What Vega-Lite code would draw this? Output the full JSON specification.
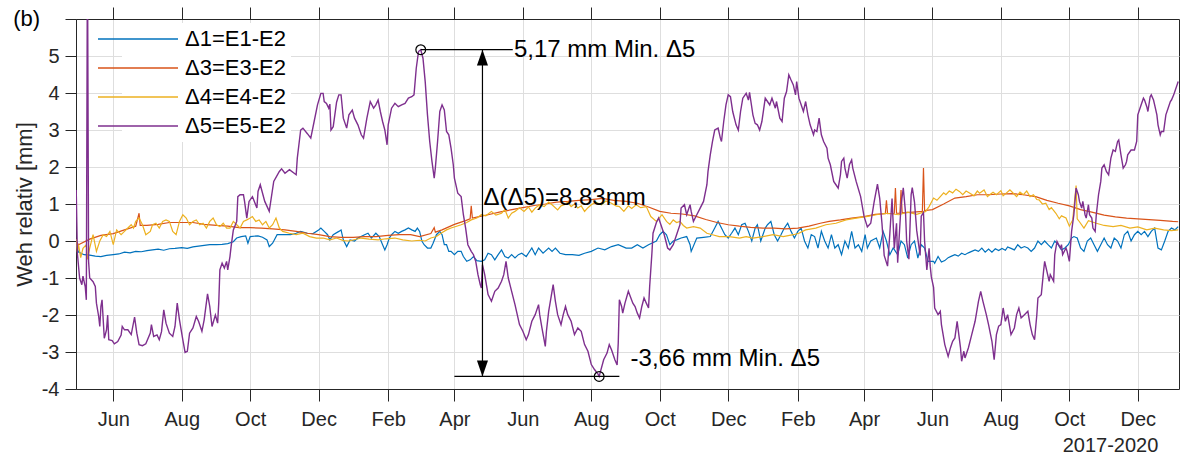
{
  "$schema": "https://vega.github.io/schema/vega-lite/v6.json",
  "autosize": "none",
  "width": 1103,
  "height": 370,
  "padding": {"left": 76, "top": 19, "right": 8, "bottom": 71},
  "background": "white",
  "title": {"text": "(b)", "anchor": "start", "frame": "bounds", "fontSize": 22, "fontWeight": "normal", "color": "black", "baseline": "alphabetic", "offset": -41, "dx": 0},
  "config": {
    "font": "Liberation Sans",
    "view": {"stroke": "#262626", "strokeWidth": 1},
    "axis": {"domainColor": "#262626", "tickColor": "#262626", "labelColor": "#262626", "titleColor": "#262626", "gridColor": "#dedede", "gridWidth": 1, "labelFontSize": 20, "titleFontSize": 22, "titleFontWeight": "normal", "labelOverlap": false, "labelFlush": false}
  },
  "datasets": {
    "d1": [
      {"d":"2017-04-29","v":-0.1},{"d":"2017-05-01","v":-0.3},{"d":"2017-05-06","v":-0.37},{"d":"2017-05-11","v":-0.38},{"d":"2017-05-16","v":-0.41},{"d":"2017-05-21","v":-0.42},{"d":"2017-05-26","v":-0.39},
      {"d":"2017-06-01","v":-0.37},{"d":"2017-06-06","v":-0.35},{"d":"2017-06-11","v":-0.3},{"d":"2017-06-16","v":-0.32},{"d":"2017-06-21","v":-0.28},{"d":"2017-06-26","v":-0.29},
      {"d":"2017-07-01","v":-0.26},{"d":"2017-07-06","v":-0.24},{"d":"2017-07-11","v":-0.22},{"d":"2017-07-16","v":-0.25},{"d":"2017-07-21","v":-0.21},{"d":"2017-07-26","v":-0.2},
      {"d":"2017-08-01","v":-0.18},{"d":"2017-08-06","v":-0.2},{"d":"2017-08-11","v":-0.16},{"d":"2017-08-16","v":-0.14},{"d":"2017-08-21","v":-0.12},{"d":"2017-08-26","v":-0.1},
      {"d":"2017-09-01","v":-0.1},{"d":"2017-09-06","v":-0.09},{"d":"2017-09-11","v":-0.07},{"d":"2017-09-16","v":-0.02},{"d":"2017-09-19","v":0.08},{"d":"2017-09-23","v":0.12},{"d":"2017-09-27","v":0.14},{"d":"2017-09-29","v":-0.06},
      {"d":"2017-10-01","v":0.12},{"d":"2017-10-08","v":0.14},{"d":"2017-10-12","v":0.1},{"d":"2017-10-16","v":0.03},{"d":"2017-10-18","v":-0.15},{"d":"2017-10-21","v":-0.06},{"d":"2017-10-25","v":0.17},
      {"d":"2017-11-01","v":0.17},{"d":"2017-11-06","v":0.17},{"d":"2017-11-11","v":0.21},{"d":"2017-11-15","v":0.26},{"d":"2017-11-21","v":0.21},{"d":"2017-11-26","v":0.2},
      {"d":"2017-12-01","v":0.3},{"d":"2017-12-03","v":0.35},{"d":"2017-12-06","v":0.26},{"d":"2017-12-09","v":0.17},{"d":"2017-12-11","v":0.03},{"d":"2017-12-14","v":0.17},{"d":"2017-12-19","v":0.26},{"d":"2017-12-21","v":0.3},{"d":"2017-12-23","v":0.03},{"d":"2017-12-26","v":-0.15},{"d":"2017-12-29","v":0.03},
      {"d":"2018-01-02","v":0.0},{"d":"2018-01-05","v":0.08},{"d":"2018-01-11","v":0.17},{"d":"2018-01-14","v":0.21},{"d":"2018-01-17","v":0.08},{"d":"2018-01-21","v":0.21},{"d":"2018-01-24","v":0.12},{"d":"2018-01-27","v":-0.1},{"d":"2018-01-29","v":-0.24},{"d":"2018-01-31","v":-0.1},
      {"d":"2018-02-02","v":0.08},{"d":"2018-02-04","v":0.17},{"d":"2018-02-07","v":0.26},{"d":"2018-02-10","v":0.21},{"d":"2018-02-13","v":0.26},{"d":"2018-02-16","v":0.3},{"d":"2018-02-19","v":0.35},{"d":"2018-02-22","v":0.3},{"d":"2018-02-25","v":0.26},{"d":"2018-02-27","v":0.35},
      {"d":"2018-03-01","v":0.26},{"d":"2018-03-03","v":0.0},{"d":"2018-03-05","v":-0.1},{"d":"2018-03-08","v":-0.19},{"d":"2018-03-11","v":-0.19},{"d":"2018-03-13","v":-0.06},{"d":"2018-03-16","v":0.17},{"d":"2018-03-19","v":0.26},{"d":"2018-03-21","v":0.17},{"d":"2018-03-23","v":-0.1},{"d":"2018-03-25","v":-0.1},{"d":"2018-03-27","v":-0.28},{"d":"2018-03-29","v":-0.28},
      {"d":"2018-04-01","v":-0.37},{"d":"2018-04-04","v":-0.28},{"d":"2018-04-07","v":-0.28},{"d":"2018-04-09","v":-0.42},{"d":"2018-04-12","v":-0.55},{"d":"2018-04-15","v":-0.51},{"d":"2018-04-18","v":-0.42},{"d":"2018-04-21","v":-0.53},{"d":"2018-04-25","v":-0.55},{"d":"2018-04-28","v":-0.51},
      {"d":"2018-05-01","v":-0.33},{"d":"2018-05-04","v":-0.37},{"d":"2018-05-07","v":-0.51},{"d":"2018-05-10","v":-0.37},{"d":"2018-05-13","v":-0.24},{"d":"2018-05-16","v":-0.42},{"d":"2018-05-19","v":-0.46},{"d":"2018-05-22","v":-0.37},{"d":"2018-05-25","v":-0.46},{"d":"2018-05-28","v":-0.37},{"d":"2018-05-31","v":-0.33},
      {"d":"2018-06-04","v":-0.42},{"d":"2018-06-09","v":-0.19},{"d":"2018-06-12","v":-0.37},{"d":"2018-06-15","v":-0.19},{"d":"2018-06-19","v":-0.33},{"d":"2018-06-24","v":-0.19},{"d":"2018-06-27","v":-0.28},{"d":"2018-06-30","v":-0.19},
      {"d":"2018-07-04","v":-0.33},{"d":"2018-07-09","v":-0.37},{"d":"2018-07-15","v":-0.37},{"d":"2018-07-21","v":-0.39},{"d":"2018-07-26","v":-0.33},
      {"d":"2018-08-01","v":-0.28},{"d":"2018-08-07","v":-0.19},{"d":"2018-08-13","v":-0.24},{"d":"2018-08-19","v":-0.15},{"d":"2018-08-25","v":-0.1},
      {"d":"2018-09-01","v":-0.19},{"d":"2018-09-06","v":-0.19},{"d":"2018-09-11","v":-0.1},{"d":"2018-09-16","v":-0.19},{"d":"2018-09-21","v":-0.1},{"d":"2018-09-28","v":0.0},
      {"d":"2018-10-01","v":0.17},{"d":"2018-10-04","v":0.26},{"d":"2018-10-07","v":0.17},{"d":"2018-10-10","v":-0.1},{"d":"2018-10-13","v":0.0},{"d":"2018-10-16","v":0.03},{"d":"2018-10-20","v":0.08},{"d":"2018-10-25","v":0.12},{"d":"2018-10-28","v":-0.1},{"d":"2018-10-29","v":-0.28},
      {"d":"2018-11-03","v":0.08},{"d":"2018-11-09","v":0.1},{"d":"2018-11-15","v":0.12},{"d":"2018-11-19","v":0.35},{"d":"2018-11-22","v":0.53},{"d":"2018-11-25","v":0.35},{"d":"2018-11-28","v":0.17},
      {"d":"2018-12-01","v":0.08},{"d":"2018-12-04","v":0.21},{"d":"2018-12-07","v":0.35},{"d":"2018-12-10","v":0.17},{"d":"2018-12-13","v":0.44},{"d":"2018-12-16","v":0.48},{"d":"2018-12-19","v":0.26},{"d":"2018-12-22","v":0.0},{"d":"2018-12-25","v":0.35},{"d":"2018-12-27","v":0.44},{"d":"2018-12-30","v":0.0},
      {"d":"2019-01-03","v":0.35},{"d":"2019-01-05","v":0.44},{"d":"2019-01-08","v":0.53},{"d":"2019-01-11","v":0.17},{"d":"2019-01-14","v":0.0},{"d":"2019-01-17","v":0.17},{"d":"2019-01-20","v":0.35},{"d":"2019-01-23","v":0.48},{"d":"2019-01-26","v":0.26},{"d":"2019-01-29","v":0.08},
      {"d":"2019-02-01","v":0.26},{"d":"2019-02-04","v":0.35},{"d":"2019-02-07","v":0.0},{"d":"2019-02-10","v":-0.19},{"d":"2019-02-13","v":0.17},{"d":"2019-02-16","v":0.12},{"d":"2019-02-19","v":-0.19},{"d":"2019-02-22","v":0.26},{"d":"2019-02-25","v":0.0},{"d":"2019-02-28","v":-0.19},
      {"d":"2019-03-03","v":0.17},{"d":"2019-03-06","v":-0.19},{"d":"2019-03-09","v":-0.1},{"d":"2019-03-12","v":-0.37},{"d":"2019-03-15","v":0.0},{"d":"2019-03-18","v":-0.19},{"d":"2019-03-21","v":0.26},{"d":"2019-03-24","v":-0.19},{"d":"2019-03-27","v":-0.1},{"d":"2019-03-30","v":-0.28},
      {"d":"2019-04-02","v":0.17},{"d":"2019-04-04","v":-0.19},{"d":"2019-04-07","v":0.0},{"d":"2019-04-12","v":0.08},{"d":"2019-04-15","v":-0.19},{"d":"2019-04-18","v":0.26},{"d":"2019-04-21","v":0.0},{"d":"2019-04-24","v":-0.37},{"d":"2019-04-27","v":-0.19},
      {"d":"2019-05-01","v":-0.37},{"d":"2019-05-04","v":0.0},{"d":"2019-05-07","v":-0.1},{"d":"2019-05-10","v":-0.46},{"d":"2019-05-13","v":-0.1},{"d":"2019-05-16","v":0.0},{"d":"2019-05-19","v":-0.46},{"d":"2019-05-22","v":-0.1},{"d":"2019-05-25","v":-0.19},{"d":"2019-05-28","v":-0.55},
      {"d":"2019-06-02","v":-0.55},{"d":"2019-06-03","v":-0.6},{"d":"2019-06-06","v":-0.42},{"d":"2019-06-09","v":-0.57},{"d":"2019-06-12","v":-0.53},{"d":"2019-06-15","v":-0.45},{"d":"2019-06-18","v":-0.41},{"d":"2019-06-21","v":-0.37},{"d":"2019-06-24","v":-0.41},{"d":"2019-06-27","v":-0.33},{"d":"2019-06-30","v":-0.37},
      {"d":"2019-07-03","v":-0.32},{"d":"2019-07-06","v":-0.28},{"d":"2019-07-09","v":-0.24},{"d":"2019-07-12","v":-0.28},{"d":"2019-07-15","v":-0.19},{"d":"2019-07-18","v":-0.3},{"d":"2019-07-21","v":-0.22},{"d":"2019-07-24","v":-0.3},{"d":"2019-07-27","v":-0.21},{"d":"2019-07-30","v":-0.26},
      {"d":"2019-08-02","v":-0.2},{"d":"2019-08-05","v":-0.25},{"d":"2019-08-07","v":-0.16},{"d":"2019-08-10","v":-0.2},{"d":"2019-08-13","v":-0.24},{"d":"2019-08-16","v":-0.1},{"d":"2019-08-19","v":-0.19},{"d":"2019-08-22","v":-0.15},{"d":"2019-08-25","v":-0.19},{"d":"2019-08-28","v":-0.28},{"d":"2019-08-31","v":-0.19},
      {"d":"2019-09-03","v":0.0},{"d":"2019-09-06","v":-0.1},{"d":"2019-09-09","v":0.0},{"d":"2019-09-12","v":-0.1},{"d":"2019-09-15","v":-0.19},{"d":"2019-09-18","v":0.0},{"d":"2019-09-21","v":-0.1},{"d":"2019-09-24","v":-0.24},{"d":"2019-09-27","v":-0.19},{"d":"2019-09-30","v":-0.1},
      {"d":"2019-10-03","v":0.08},{"d":"2019-10-05","v":0.12},{"d":"2019-10-08","v":0.08},{"d":"2019-10-11","v":-0.19},{"d":"2019-10-14","v":-0.28},{"d":"2019-10-17","v":0.0},{"d":"2019-10-20","v":0.08},{"d":"2019-10-23","v":-0.1},{"d":"2019-10-26","v":-0.28},{"d":"2019-10-29","v":-0.1},
      {"d":"2019-11-01","v":0.08},{"d":"2019-11-04","v":-0.1},{"d":"2019-11-07","v":-0.19},{"d":"2019-11-10","v":0.08},{"d":"2019-11-13","v":0.0},{"d":"2019-11-16","v":-0.19},{"d":"2019-11-19","v":0.17},{"d":"2019-11-22","v":0.26},{"d":"2019-11-25","v":0.0},{"d":"2019-11-28","v":0.17},
      {"d":"2019-12-01","v":0.26},{"d":"2019-12-04","v":0.17},{"d":"2019-12-07","v":0.26},{"d":"2019-12-10","v":0.12},{"d":"2019-12-13","v":0.26},{"d":"2019-12-16","v":0.35},{"d":"2019-12-19","v":-0.19},{"d":"2019-12-22","v":-0.24},{"d":"2019-12-25","v":0.0},{"d":"2019-12-28","v":0.26},{"d":"2019-12-31","v":0.35},
      {"d":"2020-01-03","v":0.3},{"d":"2020-01-06","v":0.39}
    ],
    "d3": [
      {"d":"2017-04-29","v":0.0},{"d":"2017-05-01","v":-0.1},{"d":"2017-05-11","v":0.05},{"d":"2017-05-21","v":0.15},{"d":"2017-06-01","v":0.2},{"d":"2017-06-11","v":0.3},{"d":"2017-06-21","v":0.4},{"d":"2017-06-24","v":0.75},{"d":"2017-06-25","v":0.42},
      {"d":"2017-07-01","v":0.42},{"d":"2017-07-11","v":0.45},{"d":"2017-07-21","v":0.5},{"d":"2017-08-01","v":0.5},{"d":"2017-08-11","v":0.5},{"d":"2017-08-21","v":0.45},{"d":"2017-09-01","v":0.42},{"d":"2017-09-11","v":0.4},{"d":"2017-09-21","v":0.36},
      {"d":"2017-10-01","v":0.36},{"d":"2017-10-11","v":0.35},{"d":"2017-10-21","v":0.33},{"d":"2017-11-01","v":0.3},{"d":"2017-11-11","v":0.26},{"d":"2017-11-21","v":0.21},{"d":"2017-12-01","v":0.17},{"d":"2017-12-11","v":0.12},{"d":"2017-12-21","v":0.1},
      {"d":"2018-01-01","v":0.1},{"d":"2018-01-11","v":0.12},{"d":"2018-01-21","v":0.12},{"d":"2018-02-01","v":0.15},{"d":"2018-02-11","v":0.17},{"d":"2018-02-21","v":0.17},{"d":"2018-03-01","v":0.12},{"d":"2018-03-11","v":0.2},{"d":"2018-03-14","v":0.36},{"d":"2018-03-15","v":0.24},{"d":"2018-03-21","v":0.3},
      {"d":"2018-04-01","v":0.45},{"d":"2018-04-11","v":0.55},{"d":"2018-04-15","v":0.6},{"d":"2018-04-16","v":0.95},{"d":"2018-04-17","v":0.62},{"d":"2018-04-23","v":0.66},{"d":"2018-05-01","v":0.71},{"d":"2018-05-11","v":0.78},{"d":"2018-05-21","v":0.84},
      {"d":"2018-06-01","v":0.9},{"d":"2018-06-11","v":0.96},{"d":"2018-06-21","v":1.0},{"d":"2018-07-01","v":1.05},{"d":"2018-07-11","v":1.07},{"d":"2018-07-21","v":1.1},{"d":"2018-08-01","v":1.12},{"d":"2018-08-11","v":1.15},{"d":"2018-08-21","v":1.1},
      {"d":"2018-09-01","v":1.07},{"d":"2018-09-11","v":1.02},{"d":"2018-09-21","v":0.92},{"d":"2018-10-01","v":0.8},{"d":"2018-10-11","v":0.75},{"d":"2018-10-21","v":0.73},{"d":"2018-11-01","v":0.68},{"d":"2018-11-11","v":0.58},{"d":"2018-11-21","v":0.5},
      {"d":"2018-12-01","v":0.44},{"d":"2018-12-11","v":0.4},{"d":"2018-12-21","v":0.37},{"d":"2019-01-01","v":0.35},{"d":"2019-01-11","v":0.35},{"d":"2019-01-21","v":0.33},{"d":"2019-02-01","v":0.35},{"d":"2019-02-11","v":0.4},{"d":"2019-02-21","v":0.48},
      {"d":"2019-03-01","v":0.53},{"d":"2019-03-11","v":0.57},{"d":"2019-03-21","v":0.62},{"d":"2019-04-01","v":0.66},{"d":"2019-04-11","v":0.72},{"d":"2019-04-20","v":0.74},{"d":"2019-04-21","v":1.1},{"d":"2019-04-22","v":0.74},{"d":"2019-04-28","v":0.75},{"d":"2019-04-29","v":1.43},{"d":"2019-04-30","v":0.75},
      {"d":"2019-05-03","v":0.75},{"d":"2019-05-04","v":1.38},{"d":"2019-05-05","v":0.76},{"d":"2019-05-15","v":0.78},{"d":"2019-05-23","v":0.8},{"d":"2019-05-24","v":1.97},{"d":"2019-05-25","v":0.82},
      {"d":"2019-06-01","v":0.85},{"d":"2019-06-11","v":1.0},{"d":"2019-06-21","v":1.16},{"d":"2019-07-01","v":1.2},{"d":"2019-07-11","v":1.25},{"d":"2019-07-21","v":1.25},{"d":"2019-08-01","v":1.27},{"d":"2019-08-11","v":1.28},{"d":"2019-08-21","v":1.25},
      {"d":"2019-09-01","v":1.2},{"d":"2019-09-11","v":1.1},{"d":"2019-09-21","v":1.02},{"d":"2019-10-01","v":0.95},{"d":"2019-10-11","v":0.85},{"d":"2019-10-21","v":0.78},{"d":"2019-11-01","v":0.7},{"d":"2019-11-11","v":0.65},{"d":"2019-11-21","v":0.62},
      {"d":"2019-12-01","v":0.6},{"d":"2019-12-11","v":0.58},{"d":"2019-12-21","v":0.56},{"d":"2020-01-01","v":0.53},{"d":"2020-01-06","v":0.52}
    ],
    "d4": [
      {"d":"2017-04-29","v":0.05},{"d":"2017-04-30","v":-0.3},{"d":"2017-05-01","v":-0.1},{"d":"2017-05-03","v":-0.45},{"d":"2017-05-05","v":-0.2},{"d":"2017-05-08","v":-0.1},{"d":"2017-05-09","v":-0.5},{"d":"2017-05-11","v":-0.19},{"d":"2017-05-14","v":0.17},{"d":"2017-05-17","v":-0.28},{"d":"2017-05-20","v":0.0},{"d":"2017-05-23","v":0.17},{"d":"2017-05-26","v":0.12},{"d":"2017-05-29","v":0.26},
      {"d":"2017-06-01","v":-0.1},{"d":"2017-06-04","v":0.3},{"d":"2017-06-08","v":0.17},{"d":"2017-06-11","v":0.26},{"d":"2017-06-14","v":0.35},{"d":"2017-06-17","v":0.44},{"d":"2017-06-19","v":0.35},{"d":"2017-06-21","v":0.53},{"d":"2017-06-24","v":0.62},{"d":"2017-06-27","v":0.44},{"d":"2017-06-30","v":0.17},
      {"d":"2017-07-04","v":0.26},{"d":"2017-07-06","v":0.44},{"d":"2017-07-09","v":0.48},{"d":"2017-07-12","v":0.35},{"d":"2017-07-15","v":0.53},{"d":"2017-07-18","v":0.57},{"d":"2017-07-21","v":0.53},{"d":"2017-07-24","v":0.26},{"d":"2017-07-27","v":0.17},{"d":"2017-07-30","v":0.53},
      {"d":"2017-08-02","v":0.71},{"d":"2017-08-05","v":0.62},{"d":"2017-08-08","v":0.44},{"d":"2017-08-11","v":0.53},{"d":"2017-08-14","v":0.57},{"d":"2017-08-17","v":0.44},{"d":"2017-08-20","v":0.48},{"d":"2017-08-23","v":0.35},{"d":"2017-08-26","v":0.53},{"d":"2017-08-29","v":0.62},
      {"d":"2017-09-01","v":0.44},{"d":"2017-09-04","v":0.39},{"d":"2017-09-07","v":0.48},{"d":"2017-09-10","v":0.35},{"d":"2017-09-13","v":0.35},{"d":"2017-09-16","v":0.53},{"d":"2017-09-19","v":0.44},{"d":"2017-09-22","v":0.35},{"d":"2017-09-25","v":0.53},{"d":"2017-09-28","v":0.57},
      {"d":"2017-10-01","v":0.62},{"d":"2017-10-03","v":0.66},{"d":"2017-10-06","v":0.53},{"d":"2017-10-09","v":0.57},{"d":"2017-10-12","v":0.44},{"d":"2017-10-15","v":0.53},{"d":"2017-10-18","v":0.35},{"d":"2017-10-21","v":0.44},{"d":"2017-10-24","v":0.62},{"d":"2017-10-27","v":0.35},{"d":"2017-10-30","v":0.26},
      {"d":"2017-11-05","v":0.21},{"d":"2017-11-11","v":0.17},{"d":"2017-11-17","v":0.21},{"d":"2017-11-23","v":0.12},{"d":"2017-11-29","v":0.08},{"d":"2017-12-05","v":0.08},{"d":"2017-12-11","v":0.03},{"d":"2017-12-17","v":0.08},{"d":"2017-12-23","v":0.01},{"d":"2017-12-28","v":0.0},
      {"d":"2018-01-08","v":0.08},{"d":"2018-01-15","v":0.05},{"d":"2018-01-23","v":0.03},{"d":"2018-01-30","v":0.06},{"d":"2018-02-07","v":0.08},{"d":"2018-02-14","v":0.03},{"d":"2018-02-22","v":0.0},{"d":"2018-03-01","v":0.02},{"d":"2018-03-06","v":0.0},{"d":"2018-03-11","v":0.08},{"d":"2018-03-16","v":0.12},{"d":"2018-03-20","v":0.21},{"d":"2018-03-25","v":0.3},{"d":"2018-03-29","v":0.35},
      {"d":"2018-04-03","v":0.4},{"d":"2018-04-07","v":0.44},{"d":"2018-04-12","v":0.5},{"d":"2018-04-16","v":0.57},{"d":"2018-04-21","v":0.62},{"d":"2018-04-25","v":0.71},{"d":"2018-04-29","v":0.68},
      {"d":"2018-05-04","v":0.8},{"d":"2018-05-08","v":0.7},{"d":"2018-05-13","v":0.75},{"d":"2018-05-16","v":0.85},{"d":"2018-05-19","v":0.62},{"d":"2018-05-22","v":0.75},{"d":"2018-05-25","v":0.8},{"d":"2018-05-29","v":0.9},
      {"d":"2018-06-02","v":0.8},{"d":"2018-06-06","v":0.92},{"d":"2018-06-09","v":0.78},{"d":"2018-06-12","v":0.89},{"d":"2018-06-16","v":0.98},{"d":"2018-06-20","v":0.93},{"d":"2018-06-24","v":1.05},{"d":"2018-06-27","v":0.98},
      {"d":"2018-07-02","v":0.84},{"d":"2018-07-05","v":0.95},{"d":"2018-07-08","v":0.98},{"d":"2018-07-11","v":1.05},{"d":"2018-07-14","v":0.93},{"d":"2018-07-17","v":1.0},{"d":"2018-07-20","v":0.89},{"d":"2018-07-23","v":0.95},{"d":"2018-07-26","v":0.8},{"d":"2018-07-29","v":0.9},
      {"d":"2018-08-01","v":0.98},{"d":"2018-08-05","v":1.05},{"d":"2018-08-10","v":0.98},{"d":"2018-08-14","v":1.08},{"d":"2018-08-19","v":1.02},{"d":"2018-08-23","v":0.95},{"d":"2018-08-26","v":0.93},{"d":"2018-08-30","v":0.8},
      {"d":"2018-09-03","v":0.95},{"d":"2018-09-06","v":0.88},{"d":"2018-09-10","v":0.98},{"d":"2018-09-14","v":0.9},{"d":"2018-09-19","v":0.93},{"d":"2018-09-23","v":0.66},{"d":"2018-09-28","v":0.53},
      {"d":"2018-10-03","v":0.71},{"d":"2018-10-07","v":0.53},{"d":"2018-10-10","v":0.45},{"d":"2018-10-13","v":0.57},{"d":"2018-10-16","v":0.5},{"d":"2018-10-19","v":0.53},{"d":"2018-10-22","v":0.42},{"d":"2018-10-25","v":0.35},{"d":"2018-10-31","v":0.39},
      {"d":"2018-11-06","v":0.35},{"d":"2018-11-12","v":0.21},{"d":"2018-11-17","v":0.17},{"d":"2018-11-23","v":0.12},{"d":"2018-12-02","v":0.12},{"d":"2018-12-11","v":0.08},{"d":"2018-12-17","v":0.12},{"d":"2018-12-23","v":0.08},
      {"d":"2019-01-01","v":0.12},{"d":"2019-01-10","v":0.17},{"d":"2019-01-19","v":0.12},{"d":"2019-01-28","v":0.17},{"d":"2019-02-02","v":0.21},{"d":"2019-02-08","v":0.3},{"d":"2019-02-17","v":0.35},{"d":"2019-02-26","v":0.44},
      {"d":"2019-03-07","v":0.48},{"d":"2019-03-16","v":0.57},{"d":"2019-03-25","v":0.62},{"d":"2019-04-03","v":0.66},{"d":"2019-04-12","v":0.71},{"d":"2019-04-21","v":0.75},{"d":"2019-05-02","v":0.71},{"d":"2019-05-10","v":0.78},{"d":"2019-05-18","v":0.72},{"d":"2019-05-26","v":0.8},{"d":"2019-05-29","v":0.93},
      {"d":"2019-06-02","v":1.16},{"d":"2019-06-05","v":1.1},{"d":"2019-06-08","v":1.2},{"d":"2019-06-11","v":1.3},{"d":"2019-06-13","v":1.25},{"d":"2019-06-16","v":1.35},{"d":"2019-06-19","v":1.3},{"d":"2019-06-22","v":1.4},{"d":"2019-06-25","v":1.34},{"d":"2019-06-28","v":1.25},
      {"d":"2019-07-01","v":1.35},{"d":"2019-07-04","v":1.3},{"d":"2019-07-08","v":1.22},{"d":"2019-07-11","v":1.35},{"d":"2019-07-13","v":1.29},{"d":"2019-07-17","v":1.38},{"d":"2019-07-20","v":1.2},{"d":"2019-07-22","v":1.25},{"d":"2019-07-25","v":1.32},{"d":"2019-07-28","v":1.25},
      {"d":"2019-08-01","v":1.36},{"d":"2019-08-03","v":1.22},{"d":"2019-08-06","v":1.3},{"d":"2019-08-09","v":1.38},{"d":"2019-08-12","v":1.29},{"d":"2019-08-15","v":1.2},{"d":"2019-08-18","v":1.32},{"d":"2019-08-21","v":1.25},{"d":"2019-08-24","v":1.35},{"d":"2019-08-27","v":1.2},{"d":"2019-08-30","v":1.25},
      {"d":"2019-09-02","v":1.12},{"d":"2019-09-04","v":1.11},{"d":"2019-09-07","v":1.0},{"d":"2019-09-10","v":1.02},{"d":"2019-09-13","v":0.85},{"d":"2019-09-15","v":0.9},{"d":"2019-09-19","v":0.75},{"d":"2019-09-22","v":0.6},{"d":"2019-09-24","v":0.68},{"d":"2019-09-28","v":0.62},
      {"d":"2019-10-01","v":0.4},{"d":"2019-10-04","v":0.57},{"d":"2019-10-07","v":1.5},{"d":"2019-10-08","v":0.6},{"d":"2019-10-10","v":0.52},{"d":"2019-10-14","v":0.35},{"d":"2019-10-18","v":0.55},{"d":"2019-10-25","v":0.48},
      {"d":"2019-11-01","v":0.42},{"d":"2019-11-09","v":0.39},{"d":"2019-11-16","v":0.42},{"d":"2019-11-24","v":0.35},{"d":"2019-12-01","v":0.38},{"d":"2019-12-09","v":0.3},{"d":"2019-12-16","v":0.35},{"d":"2019-12-24","v":0.3},{"d":"2019-12-31","v":0.28},{"d":"2020-01-06","v":0.3}
    ],
    "d5": [
      {"d":"2017-04-29","v":1.38},{"d":"2017-04-30","v":-0.33},{"d":"2017-05-02","v":-1.0},{"d":"2017-05-04","v":-1.18},{"d":"2017-05-05","v":-0.95},{"d":"2017-05-07","v":-1.23},{"d":"2017-05-08","v":-1.59},{"d":"2017-05-09","v":8},{"d":"2017-05-10","v":-0.55},{"d":"2017-05-11","v":-1.0},{"d":"2017-05-14","v":-1.1},{"d":"2017-05-16","v":-1.23},{"d":"2017-05-17","v":-1.68},{"d":"2017-05-19","v":-2.04},{"d":"2017-05-20","v":-2.31},{"d":"2017-05-21","v":-1.77},{"d":"2017-05-22","v":-1.59},{"d":"2017-05-24","v":-2.63},{"d":"2017-05-26","v":-2.4},{"d":"2017-05-27","v":-2.0},{"d":"2017-05-28","v":-2.67},{"d":"2017-05-31","v":-2.69},
      {"d":"2017-06-02","v":-2.78},{"d":"2017-06-05","v":-2.72},{"d":"2017-06-08","v":-2.54},{"d":"2017-06-09","v":-2.31},{"d":"2017-06-11","v":-2.4},{"d":"2017-06-14","v":-2.4},{"d":"2017-06-17","v":-2.53},{"d":"2017-06-20","v":-2.06},{"d":"2017-06-22","v":-2.49},{"d":"2017-06-24","v":-2.8},{"d":"2017-06-27","v":-2.83},{"d":"2017-06-30","v":-2.78},
      {"d":"2017-07-04","v":-2.49},{"d":"2017-07-05","v":-2.26},{"d":"2017-07-07","v":-2.58},{"d":"2017-07-10","v":-2.54},{"d":"2017-07-12","v":-2.67},{"d":"2017-07-14","v":-2.45},{"d":"2017-07-16","v":-1.86},{"d":"2017-07-18","v":-2.22},{"d":"2017-07-21","v":-2.49},{"d":"2017-07-24","v":-2.58},{"d":"2017-07-26","v":-2.31},{"d":"2017-07-28","v":-1.68},{"d":"2017-07-30","v":-2.13},
      {"d":"2017-08-02","v":-2.67},{"d":"2017-08-04","v":-3.01},{"d":"2017-08-06","v":-2.98},{"d":"2017-08-08","v":-2.49},{"d":"2017-08-11","v":-2.35},{"d":"2017-08-14","v":-2.04},{"d":"2017-08-16","v":-2.17},{"d":"2017-08-19","v":-2.44},{"d":"2017-08-21","v":-2.13},{"d":"2017-08-24","v":-1.43},{"d":"2017-08-26","v":-1.77},{"d":"2017-08-28","v":-2.31},{"d":"2017-08-31","v":-2.0},
      {"d":"2017-09-02","v":-2.22},{"d":"2017-09-03","v":-1.68},{"d":"2017-09-04","v":-0.78},{"d":"2017-09-06","v":-0.6},{"d":"2017-09-08","v":-0.73},{"d":"2017-09-10","v":-0.55},{"d":"2017-09-11","v":-0.78},{"d":"2017-09-13","v":-0.42},{"d":"2017-09-14","v":-0.15},{"d":"2017-09-16","v":0.3},{"d":"2017-09-19","v":0.53},{"d":"2017-09-20","v":1.2},{"d":"2017-09-22","v":1.25},{"d":"2017-09-25","v":1.25},{"d":"2017-09-26","v":1.07},{"d":"2017-09-28","v":0.62},{"d":"2017-09-30","v":1.07},
      {"d":"2017-10-03","v":1.2},{"d":"2017-10-07","v":0.89},{"d":"2017-10-08","v":1.34},{"d":"2017-10-10","v":1.52},{"d":"2017-10-14","v":1.07},{"d":"2017-10-18","v":0.8},{"d":"2017-10-22","v":1.61},{"d":"2017-10-27","v":1.88},{"d":"2017-10-29","v":1.95},
      {"d":"2017-11-01","v":1.83},{"d":"2017-11-05","v":1.93},{"d":"2017-11-11","v":1.79},{"d":"2017-11-12","v":2.24},{"d":"2017-11-15","v":3.0},{"d":"2017-11-17","v":3.05},{"d":"2017-11-21","v":2.9},{"d":"2017-11-24","v":2.78},{"d":"2017-11-27","v":3.23},{"d":"2017-11-30","v":3.68},
      {"d":"2017-12-03","v":3.99},{"d":"2017-12-05","v":3.99},{"d":"2017-12-06","v":3.77},{"d":"2017-12-08","v":3.72},{"d":"2017-12-10","v":3.59},{"d":"2017-12-11","v":3.7},{"d":"2017-12-12","v":3.0},{"d":"2017-12-14","v":3.09},{"d":"2017-12-17","v":3.75},{"d":"2017-12-19","v":3.95},{"d":"2017-12-21","v":3.95},{"d":"2017-12-23","v":3.32},{"d":"2017-12-26","v":3.05},{"d":"2017-12-28","v":3.41},{"d":"2017-12-31","v":3.54},
      {"d":"2018-01-02","v":3.32},{"d":"2018-01-05","v":3.14},{"d":"2018-01-08","v":2.87},{"d":"2018-01-10","v":2.78},{"d":"2018-01-13","v":3.32},{"d":"2018-01-16","v":3.77},{"d":"2018-01-19","v":3.59},{"d":"2018-01-21","v":3.68},{"d":"2018-01-23","v":3.81},{"d":"2018-01-25","v":3.5},{"d":"2018-01-27","v":3.23},{"d":"2018-01-29","v":3.0},{"d":"2018-01-31","v":2.6},
      {"d":"2018-02-01","v":3.14},{"d":"2018-02-04","v":3.59},{"d":"2018-02-07","v":3.72},{"d":"2018-02-10","v":3.63},{"d":"2018-02-13","v":3.68},{"d":"2018-02-16","v":3.72},{"d":"2018-02-19","v":3.86},{"d":"2018-02-22","v":3.9},{"d":"2018-02-24","v":3.95},{"d":"2018-02-26","v":4.67},{"d":"2018-02-28","v":5.12},
      {"d":"2018-03-02","v":5.17},{"d":"2018-03-04","v":4.94},{"d":"2018-03-06","v":4.3},{"d":"2018-03-08","v":3.41},{"d":"2018-03-10","v":2.69},{"d":"2018-03-12","v":2.15},{"d":"2018-03-14","v":1.7},{"d":"2018-03-15","v":1.97},{"d":"2018-03-17","v":2.69},{"d":"2018-03-19","v":3.5},{"d":"2018-03-21","v":3.68},{"d":"2018-03-23","v":3.54},{"d":"2018-03-25","v":2.96},{"d":"2018-03-27","v":2.87},{"d":"2018-03-29","v":2.51},{"d":"2018-03-31","v":2.06},
      {"d":"2018-04-01","v":1.7},{"d":"2018-04-04","v":1.29},{"d":"2018-04-07","v":1.2},{"d":"2018-04-09","v":0.71},{"d":"2018-04-11","v":0.35},{"d":"2018-04-13","v":-0.1},{"d":"2018-04-16","v":-0.28},{"d":"2018-04-18","v":-0.37},{"d":"2018-04-20","v":-0.55},{"d":"2018-04-22","v":-0.91},{"d":"2018-04-24","v":-1.18},{"d":"2018-04-25","v":-1.27},{"d":"2018-04-26","v":-0.64},{"d":"2018-04-28","v":-0.91},{"d":"2018-04-30","v":-1.27},
      {"d":"2018-05-01","v":-1.45},{"d":"2018-05-04","v":-1.63},{"d":"2018-05-07","v":-1.36},{"d":"2018-05-10","v":-1.27},{"d":"2018-05-13","v":-1.09},{"d":"2018-05-15","v":-0.91},{"d":"2018-05-17","v":-0.55},{"d":"2018-05-19","v":-1.0},{"d":"2018-05-22","v":-1.36},{"d":"2018-05-25","v":-1.72},{"d":"2018-05-27","v":-1.99},{"d":"2018-05-29","v":-2.26},
      {"d":"2018-06-01","v":-2.44},{"d":"2018-06-04","v":-2.67},{"d":"2018-06-06","v":-2.53},{"d":"2018-06-09","v":-2.17},{"d":"2018-06-12","v":-1.99},{"d":"2018-06-15","v":-1.72},{"d":"2018-06-16","v":-1.99},{"d":"2018-06-18","v":-2.35},{"d":"2018-06-21","v":-2.85},{"d":"2018-06-22","v":-2.44},{"d":"2018-06-24","v":-1.9},{"d":"2018-06-27","v":-1.36},{"d":"2018-06-28","v":-1.18},{"d":"2018-06-30","v":-1.63},
      {"d":"2018-07-02","v":-1.99},{"d":"2018-07-05","v":-2.26},{"d":"2018-07-07","v":-1.99},{"d":"2018-07-09","v":-1.77},{"d":"2018-07-11","v":-1.99},{"d":"2018-07-14","v":-2.17},{"d":"2018-07-17","v":-2.53},{"d":"2018-07-20","v":-2.35},{"d":"2018-07-23","v":-2.44},{"d":"2018-07-26","v":-2.8},{"d":"2018-07-29","v":-2.98},
      {"d":"2018-08-01","v":-3.34},{"d":"2018-08-04","v":-3.48},{"d":"2018-08-07","v":-3.6},{"d":"2018-08-08","v":-3.66},{"d":"2018-08-12","v":-3.21},{"d":"2018-08-15","v":-3.03},{"d":"2018-08-17","v":-2.8},{"d":"2018-08-19","v":-2.94},{"d":"2018-08-22","v":-3.21},{"d":"2018-08-24","v":-3.35},{"d":"2018-08-25","v":-2.76},{"d":"2018-08-26","v":-1.59},{"d":"2018-08-28","v":-1.77},{"d":"2018-08-29","v":-1.95},{"d":"2018-08-31","v":-1.68},
      {"d":"2018-09-03","v":-1.36},{"d":"2018-09-07","v":-1.68},{"d":"2018-09-09","v":-1.77},{"d":"2018-09-11","v":-1.95},{"d":"2018-09-13","v":-2.08},{"d":"2018-09-15","v":-1.77},{"d":"2018-09-17","v":-1.54},{"d":"2018-09-19","v":-1.68},{"d":"2018-09-21","v":-1.81},{"d":"2018-09-22","v":-1.23},{"d":"2018-09-24","v":-0.33},{"d":"2018-09-25","v":0.21},{"d":"2018-09-28","v":0.5},{"d":"2018-09-30","v":0.62},
      {"d":"2018-10-03","v":0.35},{"d":"2018-10-05","v":0.17},{"d":"2018-10-08","v":-0.19},{"d":"2018-10-10","v":-0.24},{"d":"2018-10-13","v":-0.1},{"d":"2018-10-16","v":0.17},{"d":"2018-10-19","v":0.44},{"d":"2018-10-20","v":0.89},{"d":"2018-10-23","v":0.98},{"d":"2018-10-25","v":0.71},{"d":"2018-10-28","v":0.98},{"d":"2018-10-29","v":0.8},{"d":"2018-10-31","v":0.53},
      {"d":"2018-11-03","v":0.71},{"d":"2018-11-06","v":0.89},{"d":"2018-11-09","v":1.07},{"d":"2018-11-12","v":1.52},{"d":"2018-11-13","v":1.88},{"d":"2018-11-15","v":2.33},{"d":"2018-11-17","v":2.69},{"d":"2018-11-19","v":3.0},{"d":"2018-11-22","v":3.05},{"d":"2018-11-24","v":2.78},{"d":"2018-11-25","v":2.69},{"d":"2018-11-27","v":3.23},{"d":"2018-11-29","v":3.68},
      {"d":"2018-12-01","v":3.95},{"d":"2018-12-03","v":3.9},{"d":"2018-12-05","v":3.5},{"d":"2018-12-08","v":3.14},{"d":"2018-12-10","v":3.0},{"d":"2018-12-12","v":3.5},{"d":"2018-12-14","v":3.86},{"d":"2018-12-17","v":3.99},{"d":"2018-12-19","v":3.81},{"d":"2018-12-20","v":4.02},{"d":"2018-12-23","v":3.41},{"d":"2018-12-25","v":3.18},{"d":"2018-12-27","v":3.14},{"d":"2018-12-29","v":3.0},{"d":"2018-12-31","v":3.23},
      {"d":"2019-01-03","v":3.86},{"d":"2019-01-05","v":3.77},{"d":"2019-01-07","v":3.68},{"d":"2019-01-09","v":3.86},{"d":"2019-01-12","v":3.59},{"d":"2019-01-13","v":3.77},{"d":"2019-01-16","v":3.32},{"d":"2019-01-18","v":3.23},{"d":"2019-01-20","v":3.86},{"d":"2019-01-22","v":4.04},{"d":"2019-01-24","v":4.49},{"d":"2019-01-26","v":4.35},{"d":"2019-01-28","v":4.22},{"d":"2019-01-30","v":3.95},{"d":"2019-01-31","v":4.31},
      {"d":"2019-02-02","v":3.86},{"d":"2019-02-04","v":3.68},{"d":"2019-02-06","v":3.5},{"d":"2019-02-08","v":3.77},{"d":"2019-02-10","v":3.41},{"d":"2019-02-12","v":3.14},{"d":"2019-02-15","v":2.87},{"d":"2019-02-16","v":3.0},{"d":"2019-02-18","v":2.96},{"d":"2019-02-20","v":3.32},{"d":"2019-02-22","v":2.87},{"d":"2019-02-24","v":2.69},{"d":"2019-02-27","v":2.51},{"d":"2019-02-28","v":2.24},
      {"d":"2019-03-02","v":2.06},{"d":"2019-03-05","v":1.61},{"d":"2019-03-07","v":1.52},{"d":"2019-03-09","v":1.43},{"d":"2019-03-11","v":1.79},{"d":"2019-03-12","v":2.15},{"d":"2019-03-14","v":2.24},{"d":"2019-03-15","v":1.97},{"d":"2019-03-17","v":1.7},{"d":"2019-03-19","v":2.06},{"d":"2019-03-21","v":2.19},{"d":"2019-03-22","v":1.97},{"d":"2019-03-25","v":1.61},{"d":"2019-03-29","v":1.2},
      {"d":"2019-04-01","v":0.67},{"d":"2019-04-04","v":0.38},{"d":"2019-04-07","v":0.48},{"d":"2019-04-10","v":1.05},{"d":"2019-04-13","v":1.54},{"d":"2019-04-15","v":1.15},{"d":"2019-04-17","v":0.48},{"d":"2019-04-19","v":-0.39},{"d":"2019-04-22","v":-0.68},{"d":"2019-04-24","v":0.19},{"d":"2019-04-26","v":1.15},{"d":"2019-04-28","v":-0.2},{"d":"2019-04-30","v":0.48},
      {"d":"2019-05-01","v":-0.59},{"d":"2019-05-04","v":0.96},{"d":"2019-05-06","v":1.44},{"d":"2019-05-08","v":0.77},{"d":"2019-05-09","v":0.0},{"d":"2019-05-11","v":-0.49},{"d":"2019-05-13","v":1.25},{"d":"2019-05-14","v":1.44},{"d":"2019-05-16","v":1.05},{"d":"2019-05-18","v":0.28},{"d":"2019-05-21","v":-0.39},{"d":"2019-05-22","v":0.67},{"d":"2019-05-24","v":0.77},{"d":"2019-05-25","v":0.0},{"d":"2019-05-27","v":-0.78},{"d":"2019-05-29","v":-0.2},{"d":"2019-05-30","v":-0.68},{"d":"2019-05-31","v":-0.97},
      {"d":"2019-06-02","v":-1.25},{"d":"2019-06-03","v":-1.81},{"d":"2019-06-06","v":-1.99},{"d":"2019-06-08","v":-1.9},{"d":"2019-06-09","v":-2.26},{"d":"2019-06-12","v":-2.8},{"d":"2019-06-15","v":-3.12},{"d":"2019-06-17","v":-2.89},{"d":"2019-06-19","v":-2.71},{"d":"2019-06-21","v":-2.62},{"d":"2019-06-23","v":-2.17},{"d":"2019-06-26","v":-2.89},{"d":"2019-06-27","v":-3.25},{"d":"2019-06-29","v":-2.98},{"d":"2019-06-30","v":-3.16},
      {"d":"2019-07-03","v":-2.89},{"d":"2019-07-06","v":-2.53},{"d":"2019-07-09","v":-2.17},{"d":"2019-07-12","v":-1.63},{"d":"2019-07-14","v":-1.36},{"d":"2019-07-16","v":-1.63},{"d":"2019-07-19","v":-1.99},{"d":"2019-07-21","v":-2.26},{"d":"2019-07-24","v":-2.71},{"d":"2019-07-26","v":-3.21},{"d":"2019-07-28","v":-2.53},{"d":"2019-07-30","v":-2.3},
      {"d":"2019-08-01","v":-2.26},{"d":"2019-08-03","v":-1.81},{"d":"2019-08-05","v":-2.17},{"d":"2019-08-07","v":-1.99},{"d":"2019-08-10","v":-2.53},{"d":"2019-08-13","v":-2.35},{"d":"2019-08-15","v":-1.99},{"d":"2019-08-17","v":-1.81},{"d":"2019-08-19","v":-2.08},{"d":"2019-08-22","v":-1.99},{"d":"2019-08-25","v":-1.9},{"d":"2019-08-27","v":-2.26},{"d":"2019-08-29","v":-2.53},{"d":"2019-08-31","v":-2.67},
      {"d":"2019-09-02","v":-2.0},{"d":"2019-09-03","v":-1.54},{"d":"2019-09-06","v":-1.45},{"d":"2019-09-08","v":-0.82},{"d":"2019-09-09","v":-0.55},{"d":"2019-09-11","v":-0.82},{"d":"2019-09-13","v":-1.09},{"d":"2019-09-14","v":-0.91},{"d":"2019-09-17","v":-1.09},{"d":"2019-09-18","v":-0.37},{"d":"2019-09-20","v":-0.01},{"d":"2019-09-23","v":-0.19},{"d":"2019-09-24","v":-0.1},{"d":"2019-09-25","v":-0.37},{"d":"2019-09-28","v":-0.19},{"d":"2019-09-29","v":-0.28},
      {"d":"2019-10-01","v":-0.55},{"d":"2019-10-03","v":0.26},{"d":"2019-10-05","v":0.71},{"d":"2019-10-07","v":1.43},{"d":"2019-10-09","v":1.25},{"d":"2019-10-10","v":1.07},{"d":"2019-10-12","v":0.89},{"d":"2019-10-13","v":1.07},{"d":"2019-10-15","v":0.71},{"d":"2019-10-16","v":0.62},{"d":"2019-10-18","v":0.98},{"d":"2019-10-19","v":0.71},{"d":"2019-10-21","v":0.62},{"d":"2019-10-22","v":0.35},{"d":"2019-10-24","v":0.26},{"d":"2019-10-25","v":0.71},{"d":"2019-10-27","v":1.25},{"d":"2019-10-29","v":1.61},{"d":"2019-10-30","v":1.97},
      {"d":"2019-11-01","v":2.06},{"d":"2019-11-03","v":1.88},{"d":"2019-11-05","v":1.79},{"d":"2019-11-07","v":2.24},{"d":"2019-11-09","v":2.46},{"d":"2019-11-11","v":2.42},{"d":"2019-11-13","v":2.69},{"d":"2019-11-14","v":2.73},{"d":"2019-11-16","v":2.33},{"d":"2019-11-18","v":1.97},{"d":"2019-11-20","v":2.06},{"d":"2019-11-21","v":2.15},{"d":"2019-11-22","v":2.33},{"d":"2019-11-25","v":2.46},{"d":"2019-11-28","v":2.46},{"d":"2019-11-30","v":2.69},
      {"d":"2019-12-01","v":3.41},{"d":"2019-12-04","v":3.68},{"d":"2019-12-06","v":3.86},{"d":"2019-12-07","v":3.81},{"d":"2019-12-09","v":3.63},{"d":"2019-12-10","v":3.5},{"d":"2019-12-12","v":3.9},{"d":"2019-12-13","v":3.95},{"d":"2019-12-15","v":3.81},{"d":"2019-12-16","v":3.68},{"d":"2019-12-18","v":3.41},{"d":"2019-12-19","v":3.14},{"d":"2019-12-21","v":2.87},{"d":"2019-12-22","v":2.96},{"d":"2019-12-24","v":2.96},{"d":"2019-12-26","v":3.41},{"d":"2019-12-28","v":3.59},{"d":"2019-12-30","v":3.77},{"d":"2019-12-31","v":3.81},
      {"d":"2020-01-02","v":3.95},{"d":"2020-01-03","v":4.04},{"d":"2020-01-05","v":4.22},{"d":"2020-01-06","v":4.31}
    ],
    "extremes": [{"d":"2018-03-02","v":5.17},{"d":"2018-08-08","v":-3.66}],
    "leaders": [{"d":"2018-03-02","d2":"2018-05-23","v":5.17},{"d":"2018-04-01","d2":"2018-08-26","v":-3.66}],
    "span": [{"d":"2018-04-26","v":5.17,"v2":-3.66}],
    "notes": [
      {"d":"2018-05-24","v":5.17,"t":"5,17 mm Min. Δ5"},
      {"d":"2018-04-27","v":1.15,"t":"Δ(Δ5)=8,83mm"},
      {"d":"2018-09-05","v":-3.18,"t":"-3,66 mm Min. Δ5"}
    ]
  },
  "resolve": {"axis": {"x": "independent"}},
  "encoding": {
    "x": {"field": "d", "type": "temporal", "scale": {"type": "utc", "domain": [{"year": 2017, "month": "Apr", "date": 28, "hours": 19, "utc": true}, {"year": 2020, "month": "Jan", "date": 6, "hours": 17, "utc": true}]}, "axis": null},
    "y": {"field": "v", "type": "quantitative", "scale": {"domain": [-4, 6], "nice": false, "zero": false},
      "axis": {"values": [-4, -3, -2, -1, 0, 1, 2, 3, 4, 5, 6], "labelExpr": "datum.value >= 6 ? '' : '' + datum.value", "grid": true, "tickSize": 11, "labelPadding": 6, "title": "Weh relativ [mm]", "titlePadding": 5}}
  },
  "layer": [
    {
      "data": {"name": "d1"},
      "mark": {"type": "line", "strokeWidth": 1.2, "clip": true},
      "encoding": {
        "x": {"field": "d", "type": "temporal", "scale": {"type": "utc", "domain": [{"year": 2017, "month": "Apr", "date": 28, "hours": 19, "utc": true}, {"year": 2020, "month": "Jan", "date": 6, "hours": 17, "utc": true}]},
          "axis": {"orient": "bottom", "values": [
            {"year": 2017, "month": "Jun", "date": 1, "utc": true}, {"year": 2017, "month": "Aug", "date": 1, "utc": true}, {"year": 2017, "month": "Oct", "date": 1, "utc": true}, {"year": 2017, "month": "Dec", "date": 1, "utc": true},
            {"year": 2018, "month": "Feb", "date": 1, "utc": true}, {"year": 2018, "month": "Apr", "date": 1, "utc": true}, {"year": 2018, "month": "Jun", "date": 1, "utc": true}, {"year": 2018, "month": "Aug", "date": 1, "utc": true}, {"year": 2018, "month": "Oct", "date": 1, "utc": true}, {"year": 2018, "month": "Dec", "date": 1, "utc": true},
            {"year": 2019, "month": "Feb", "date": 1, "utc": true}, {"year": 2019, "month": "Apr", "date": 1, "utc": true}, {"year": 2019, "month": "Jun", "date": 1, "utc": true}, {"year": 2019, "month": "Aug", "date": 1, "utc": true}, {"year": 2019, "month": "Oct", "date": 1, "utc": true}, {"year": 2019, "month": "Dec", "date": 1, "utc": true}],
            "labelExpr": "utcFormat(datum.value, '%b')", "grid": true, "tickSize": 12, "labelPadding": 8,
            "title": "2017-2020", "titleFontSize": 20, "titleX": 1034, "titleY": 56, "titleAlign": "center", "titleBaseline": "middle"}},
        "color": {"datum": "Δ1=E1-E2", "type": "nominal",
          "scale": {"domain": ["Δ1=E1-E2", "Δ3=E3-E2", "Δ4=E4-E2", "Δ5=E5-E2"], "range": ["#0072BD", "#D95319", "#EDB120", "#7E2F8E"]},
          "legend": {"orient": "none", "legendX": 46, "legendY": 4, "title": null, "symbolType": "M-4,0H4", "symbolSize": 400, "symbolStrokeWidth": 1.5, "labelFontSize": 22, "labelColor": "black", "labelOffset": 36, "labelLimit": 300, "rowPadding": 7, "fillColor": "white", "padding": 5}}
      }
    },
    {
      "data": {"name": "d3"},
      "mark": {"type": "line", "strokeWidth": 1.2, "clip": true},
      "encoding": {
        "x": {"field": "d", "type": "temporal", "scale": {"type": "utc", "domain": [{"year": 2017, "month": "Apr", "date": 28, "hours": 19, "utc": true}, {"year": 2020, "month": "Jan", "date": 6, "hours": 17, "utc": true}]},
          "axis": {"orient": "top", "values": [
            {"year": 2017, "month": "Jun", "date": 1, "utc": true}, {"year": 2017, "month": "Aug", "date": 1, "utc": true}, {"year": 2017, "month": "Oct", "date": 1, "utc": true}, {"year": 2017, "month": "Dec", "date": 1, "utc": true},
            {"year": 2018, "month": "Feb", "date": 1, "utc": true}, {"year": 2018, "month": "Apr", "date": 1, "utc": true}, {"year": 2018, "month": "Jun", "date": 1, "utc": true}, {"year": 2018, "month": "Aug", "date": 1, "utc": true}, {"year": 2018, "month": "Oct", "date": 1, "utc": true}, {"year": 2018, "month": "Dec", "date": 1, "utc": true},
            {"year": 2019, "month": "Feb", "date": 1, "utc": true}, {"year": 2019, "month": "Apr", "date": 1, "utc": true}, {"year": 2019, "month": "Jun", "date": 1, "utc": true}, {"year": 2019, "month": "Aug", "date": 1, "utc": true}, {"year": 2019, "month": "Oct", "date": 1, "utc": true}, {"year": 2019, "month": "Dec", "date": 1, "utc": true}],
            "labels": false, "grid": false, "tickSize": 12, "title": null}},
        "color": {"datum": "Δ3=E3-E2", "type": "nominal"}
      }
    },
    {
      "data": {"name": "d4"},
      "mark": {"type": "line", "strokeWidth": 1.2, "clip": true},
      "encoding": {"color": {"datum": "Δ4=E4-E2", "type": "nominal"}}
    },
    {
      "data": {"name": "d5"},
      "mark": {"type": "line", "strokeWidth": 1.4, "clip": true},
      "encoding": {"color": {"datum": "Δ5=E5-E2", "type": "nominal"}}
    },
    {
      "data": {"name": "leaders"},
      "mark": {"type": "rule", "color": "black", "strokeWidth": 1.2},
      "encoding": {"x2": {"field": "d2"}}
    },
    {
      "data": {"name": "span"},
      "mark": {"type": "rule", "color": "black", "strokeWidth": 1.2},
      "encoding": {"y2": {"field": "v2"}}
    },
    {
      "data": {"name": "span"},
      "mark": {"type": "point", "shape": "M0,0L-0.7,2L0.7,2Z", "size": 250, "filled": true, "color": "black", "opacity": 1}
    },
    {
      "data": {"name": "span"},
      "mark": {"type": "point", "shape": "M0,0L-0.7,-2L0.7,-2Z", "size": 250, "filled": true, "color": "black", "opacity": 1},
      "encoding": {"y": {"field": "v2", "type": "quantitative"}}
    },
    {
      "data": {"name": "extremes"},
      "mark": {"type": "point", "shape": "circle", "size": 95, "filled": false, "color": "black", "strokeWidth": 1.2, "opacity": 1}
    },
    {
      "data": {"name": "notes"},
      "mark": {"type": "text", "align": "left", "baseline": "middle", "fontSize": 24, "color": "black"},
      "encoding": {"text": {"field": "t"}}
    }
  ]
}
